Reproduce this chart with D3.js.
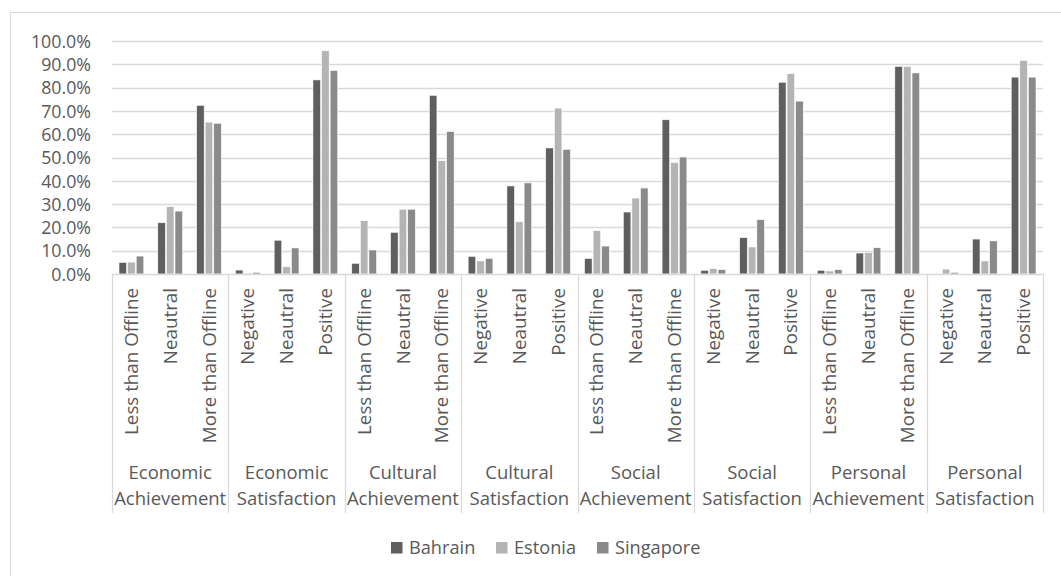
<!DOCTYPE html>
<html>
<head>
<meta charset="utf-8">
<script src="https://cdn.jsdelivr.net/npm/d3@7"></script>
<style>
  html, body { margin: 0; padding: 0; background: #fff; }
  svg { display: block; }
  text { font-family: "Open Sans", sans-serif; fill: #595959; }
</style>
</head>
<body>
<svg id="chart" width="1061" height="576"></svg>
<script>
// Outer groups and their sub-categories
const groups = [
  ["Economic", "Achievement"], ["Economic", "Satisfaction"],
  ["Cultural", "Achievement"], ["Cultural", "Satisfaction"],
  ["Social", "Achievement"], ["Social", "Satisfaction"],
  ["Personal", "Achievement"], ["Personal", "Satisfaction"]
];
const achievementCats = ["Less than Offline", "Neautral", "More than Offline"];
const satisfactionCats = ["Negative", "Neautral", "Positive"];
const seriesNames = ["Bahrain", "Estonia", "Singapore"];
const seriesColors = ["#5f5f5f", "#b4b4b4", "#8a8a8a"];
const yTicks = [0, 10, 20, 30, 40, 50, 60, 70, 80, 90, 100];

// Percent values, one entry per sub-category (8 groups x 3)
const bahrain = [
  5.0, 22.0, 72.4,   1.7, 14.5, 83.3,
  4.6, 17.9, 76.7,   7.6, 37.8, 54.1,
  6.7, 26.6, 66.2,   1.6, 15.6, 82.3,
  1.6, 9.0, 89.1,    0.0, 15.0, 84.5
];
const estonia = [
  5.1, 28.9, 65.2,   0.4, 3.1, 95.8,
  22.9, 27.8, 48.6,  5.6, 22.4, 71.2,
  18.6, 32.6, 47.8,  2.3, 11.6, 86.0,
  1.3, 9.2, 89.1,    2.1, 5.6, 91.7
];
const singapore = [
  7.7, 27.0, 64.7,   0.7, 11.2, 87.4,
  10.3, 27.8, 61.2,  6.7, 39.1, 53.5,
  12.0, 36.9, 50.2,  1.9, 23.3, 74.2,
  1.9, 11.3, 86.3,   0.7, 14.2, 84.5
];
const seriesValues = [bahrain, estonia, singapore];

// Flattened category list (sub-category within its group)
const cats = [];
groups.forEach((g, gi) => {
  const subs = g[1] === "Achievement" ? achievementCats : satisfactionCats;
  subs.forEach((s, si) => cats.push({ id: gi * 3 + si, group: gi, label: s }));
});

const svg = d3.select("#chart");
const plot = { left: 112, right: 1043, top: 41, bottom: 274 };

// Chart frame
svg.append("rect")
  .attr("x", 10.5).attr("y", 12.5)
  .attr("width", 1100).attr("height", 700)
  .attr("fill", "none").attr("stroke", "#d9d9d9").attr("stroke-width", 1);

const y = d3.scaleLinear().domain([0, 100]).range([plot.bottom, plot.top]);
const x = d3.scaleBand().domain(cats.map(c => c.id))
  .range([plot.left, plot.right]).paddingInner(0.335).paddingOuter(0.1675);
const xs = d3.scaleBand().domain(seriesNames).range([0, x.bandwidth()]);
const xGroup = d3.scaleBand().domain(d3.range(groups.length))
  .range([plot.left, plot.right]);

// Horizontal gridlines
svg.append("g").selectAll("line").data(yTicks.slice(1)).join("line")
  .attr("x1", plot.left).attr("x2", plot.right)
  .attr("y1", d => Math.round(y(d)) + 0.5).attr("y2", d => Math.round(y(d)) + 0.5)
  .attr("stroke", "#d9d9d9").attr("stroke-width", 1.3);

// Y axis labels
const yAxis = d3.axisLeft(y).tickValues(yTicks)
  .tickFormat(d => d3.format(".1f")(d) + "%").tickSize(0).tickPadding(0);
const ya = svg.append("g").attr("transform", `translate(91,0)`).call(yAxis);
ya.select(".domain").remove();
ya.selectAll("text").attr("font-size", "17.8px").attr("font-family", null)
  .attr("fill", "#595959").attr("dy", "0.35em");

// Bars
seriesNames.forEach((name, si) => {
  svg.append("g").selectAll("rect").data(cats).join("rect")
    .attr("x", c => x(c.id) + xs(name) + 0.5)
    .attr("width", xs.bandwidth() - 1)
    .attr("y", c => y(seriesValues[si][c.id]))
    .attr("height", c => y(0) - y(seriesValues[si][c.id]))
    .attr("fill", seriesColors[si])
    .attr("stroke", "#ffffff").attr("stroke-width", 0.6);
});

// Category axis line and group separators
const sepBottom = 513;
svg.append("line")
  .attr("x1", plot.left).attr("x2", plot.right)
  .attr("y1", plot.bottom + 0.5).attr("y2", plot.bottom + 0.5)
  .attr("stroke", "#d9d9d9").attr("stroke-width", 1.3);
const seps = d3.range(groups.length + 1).map(i => i < groups.length ? xGroup(i) : plot.right);
svg.append("g").selectAll("line").data(seps).join("line")
  .attr("x1", d => Math.round(d) + 0.5).attr("x2", d => Math.round(d) + 0.5)
  .attr("y1", plot.bottom).attr("y2", sepBottom)
  .attr("stroke", "#d9d9d9").attr("stroke-width", 1.3);

// Rotated sub-category labels
svg.append("g").selectAll("text").data(cats).join("text")
  .attr("transform", c => `translate(${x(c.id) + x.bandwidth() / 2},288) rotate(-90)`)
  .attr("text-anchor", "end")
  .attr("dy", "0.35em")
  .attr("font-size", "18.8px")
  .text(c => c.label);

// Two-line group labels
const gl = svg.append("g").selectAll("text").data(groups).join("text")
  .attr("text-anchor", "middle")
  .attr("font-size", "18.5px");
gl.append("tspan")
  .attr("x", (g, i) => xGroup(i) + xGroup.bandwidth() / 2)
  .attr("y", 479).text(g => g[0]);
gl.append("tspan")
  .attr("x", (g, i) => xGroup(i) + xGroup.bandwidth() / 2)
  .attr("y", 505).text(g => g[1]);

// Legend
const legendX = [391, 496, 597];
const lg = svg.append("g").selectAll("g").data(seriesNames).join("g")
  .attr("transform", (d, i) => `translate(${legendX[i]},542)`);
lg.append("rect").attr("width", 11.5).attr("height", 11.5)
  .attr("fill", (d, i) => seriesColors[i]);
lg.append("text").attr("x", 18).attr("y", 6).attr("dy", "0.35em")
  .attr("font-size", "18.2px").text(d => d);
</script>
</body>
</html>
